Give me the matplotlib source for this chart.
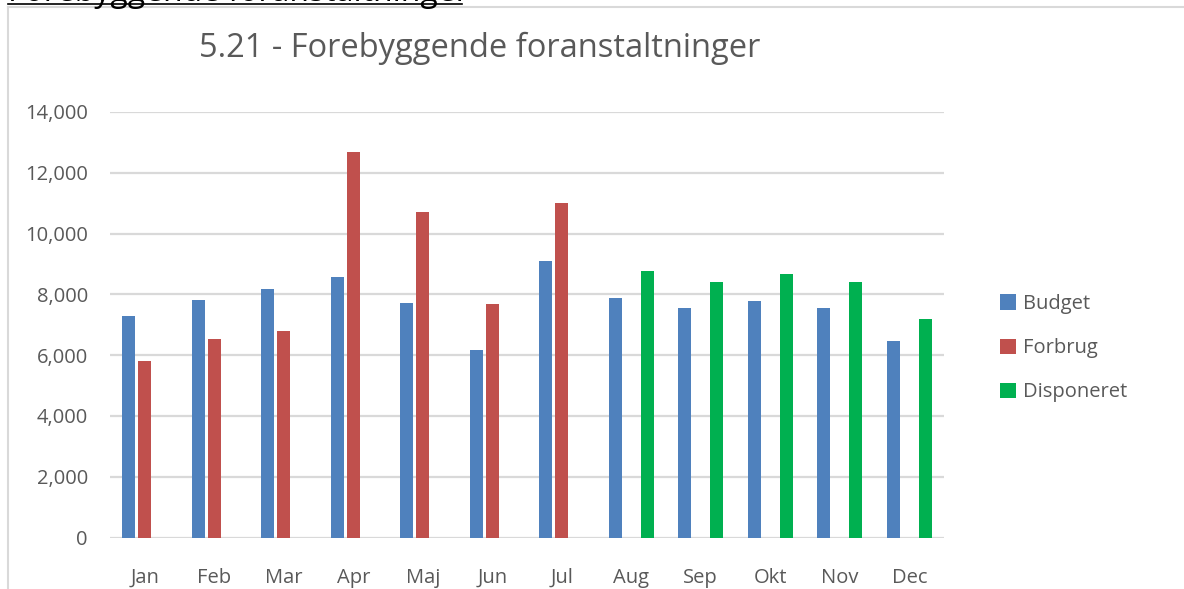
import matplotlib
matplotlib.use("Agg")
import matplotlib.pyplot as plt
import numpy as np
from matplotlib.lines import Line2D
from matplotlib.patches import Patch

months = ["Jan", "Feb", "Mar", "Apr", "Maj", "Jun", "Jul",
          "Aug", "Sep", "Okt", "Nov", "Dec"]
budget = [7290, 7815, 8180, 8570, 7720, 6170, 9100,
          7880, 7550, 7780, 7550, 6470]
forbrug = [5810, 6530, 6800, 12680, 10710, 7680, 11000,
           np.nan, np.nan, np.nan, np.nan, np.nan]
disponeret = [np.nan] * 7 + [8770, 8410, 8670, 8410, 7190]

series_names = ["Budget", "Forbrug", "Disponeret"]
colors = ["#4f81bd", "#c0504d", "#00b050"]
text_col = "#595959"
grid_col = "#d9d9d9"

plt.rcParams["font.family"] = ["Open Sans", "DejaVu Sans"]

W, H = 1184, 589
fig = plt.figure(figsize=(W / 100, H / 100), dpi=100)

# plot area in pixels: x 110..944, y 112 (14000) .. 537.5 (0)
ax = fig.add_axes([110 / W, 1 - 537.5 / H, (944 - 110) / W, (537.5 - 112) / H])

x = np.arange(len(months))
width = 0.187
offset = 0.23
for i, (vals, name, c) in enumerate(zip([budget, forbrug, disponeret], series_names, colors)):
    ax.bar(x + (i - 1) * offset, vals, width=width, color=c, label=name, zorder=3)

ax.set_xlim(-0.5, len(months) - 0.5)
ax.set_ylim(0, 14000)
ax.set_yticks(np.arange(0, 14001, 2000))
ax.set_yticklabels([f"{v:,}" for v in range(0, 14001, 2000)])
ax.set_xticks(x)
ax.set_xticklabels(months)
ax.grid(axis="y", color=grid_col, linewidth=1.6, zorder=0)
ax.tick_params(axis="both", length=0, labelsize=14.5, colors=text_col)
ax.tick_params(axis="x", pad=22)
ax.tick_params(axis="y", pad=16)
for s in ax.spines.values():
    s.set_visible(False)

fig.text(480 / W, 1 - 48 / H, "5.21 - Forebyggende foranstaltninger", fontsize=23.5,
         color=text_col, ha="center", va="center")

handles = [Patch(facecolor=c, label=n) for n, c in zip(series_names, colors)]
fig.legend(handles=handles, loc="upper left", bbox_to_anchor=(982 / W, 1 - 276 / H),
           frameon=False, fontsize=14.5, labelcolor=text_col, handlelength=0.8,
           handleheight=0.8, handletextpad=0.35, labelspacing=1.2)

# chart frame and the clipped heading above it
fig.add_artist(Line2D([8 / W, 8 / W], [0, 1 - 7 / H], color=grid_col, linewidth=1.5))
fig.add_artist(Line2D([8 / W, 1], [1 - 7 / H, 1 - 7 / H], color=grid_col, linewidth=1.5))
fig.text(8 / W, 1 - 1 / H, "Forebyggende foranstaltninger", fontsize=23,
         color="black", va="baseline", ha="left")
fig.add_artist(Line2D([8 / W, 462 / W], [1 - 4 / H, 1 - 4 / H], color="black", linewidth=1.2))

fig.savefig("out.png", dpi=100)
